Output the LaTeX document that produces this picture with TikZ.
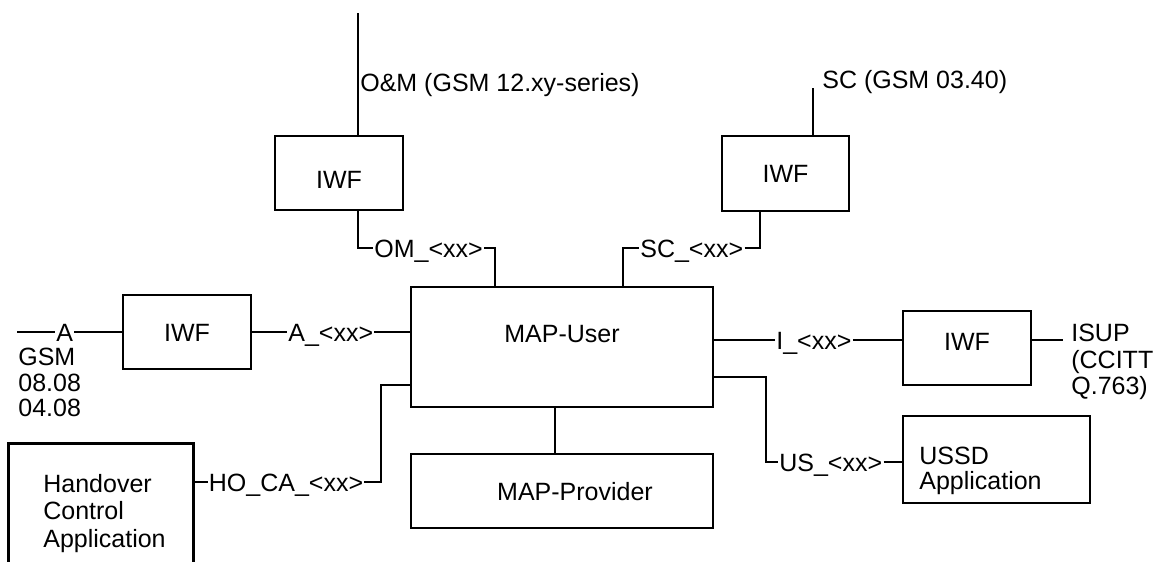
\documentclass[tikz,border=0pt]{standalone}
\usepackage{fontspec}
\setmainfont{Liberation Sans}
\begin{document}
\begin{tikzpicture}[x=1pt,y=-1pt,line width=2.7pt,
  every node/.style={font=\fontsize{25}{26.5}\selectfont},
  box/.style={draw,rectangle,inner sep=0pt,text height=18pt,text depth=0pt},
  lab/.style={inner sep=0pt,text height=18pt,text depth=0pt,anchor=west},
  txt/.style={inner sep=0pt,align=left,anchor=north west}]
\useasboundingbox (0,0) rectangle (1154,562);

% boxes
\node[box,minimum width=128pt,minimum height=74pt,text height=30pt] (iwfOM) at (339,173) {IWF};
\node[box,minimum width=127pt,minimum height=75pt] (iwfSC) at (785.5,173.5) {IWF};
\node[box,minimum width=128pt,minimum height=74pt] (iwfA) at (187,332) {IWF};
\node[box,minimum width=128pt,minimum height=74pt,text depth=14pt] (iwfI) at (967,348) {IWF};
\node[box,minimum width=302pt,minimum height=120pt,text depth=28pt] (mapu) at (562,347) {MAP-User};
\node[box,minimum width=302pt,minimum height=74pt] (mapp) at (562,491) {\hspace*{26pt}MAP-Provider};
\node[box,minimum width=187pt,minimum height=87pt] (ussd) at (996.5,459.5) {};
\node[txt,font=\fontsize{25}{25}\selectfont] (ussdT) at (918,446) {USSD\\Application};
\node[inner sep=0pt,minimum width=182pt,minimum height=117pt] (ho) at (101,503.5) {};
\draw (ho.south west) -- (ho.north west) -- (ho.north east) -- (ho.south east);
\node[txt,font=\fontsize{25}{27.5}\selectfont] (hoT) at (42,473) {Handover\\Control\\Application};

% free texts
\node[txt,font=\fontsize{25}{25.5}\selectfont] (gsm) at (17,347) {GSM\\08.08\\04.08};
\node[txt,font=\fontsize{25}{26.5}\selectfont] (isup) at (1070,323) {ISUP\\(CCITT\\Q.763)};
\node[lab] (omT) at (359,82) {O\&M (GSM 12.xy-series)};
\node[lab] (scT) at (821,79) {SC (GSM 03.40)};

% connector labels
\node[lab] (aL) at (55,332) {A};
\node[lab] (axL) at (287,332) {A\_<xx>};
\node[lab] (omL) at (373,248) {OM\_<xx>};
\node[lab] (scL) at (639,248) {SC\_<xx>};
\node[lab] (iL) at (775,340) {I\_<xx>};
\node[lab] (usL) at (778,462) {US\_<xx>};
\node[lab,anchor=center] (hoL) at (286,482) {HO\_CA\_<xx>};

% bend points
\coordinate (omTop) at (358,13);
\coordinate (omX) at (495,248);
\coordinate (scX) at (623,248);
\coordinate (scY) at (760,248);
\coordinate (scTop) at (813,88);
\coordinate (aStart) at (17,332);
\coordinate (hoB) at (381,385);
\coordinate (midX) at (555,430);
\coordinate (isupEnd) at (1063,340);
\coordinate (usB) at (766,377);

% connectors
\draw (omTop) -- (omTop |- iwfOM.north);
\draw (omTop |- iwfOM.south) |- (omL.west);
\draw (omL.east) -- (omX) -- (omX |- mapu.north);
\draw (mapu.north -| scX) -- (scX) -- (scL.west);
\draw (scL.east) -- (scY) -- (scY |- iwfSC.south);
\draw (scTop) -- (scTop |- iwfSC.north);
\draw (aStart) -- (aL.west);
\draw (aL.east) -- (iwfA.west);
\draw (iwfA.east) -- (axL.west);
\draw (axL.east) -- (axL.east -| mapu.west);
\draw (hoL.west) -- (hoL.west -| ho.east);
\draw (hoL.east) -| (hoB) -- (hoB -| mapu.west);
\draw (midX |- mapu.south) -- (midX |- mapp.north);
\draw (mapu.east |- iL.west) -- (iL.west);
\draw (iL.east) -- (iL.east -| iwfI.west);
\draw (iwfI.east |- isupEnd) -- (isupEnd);
\draw (mapu.east |- usB) -- (usB) |- (usL.west);
\draw (usL.east) -- (usL.east -| ussd.west);
\end{tikzpicture}
\end{document}
